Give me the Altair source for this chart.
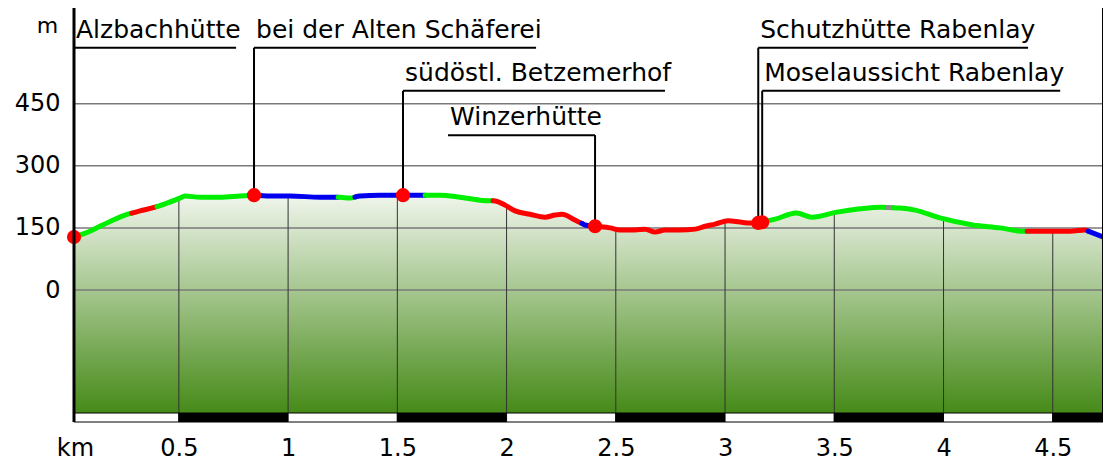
import numpy as np
import pandas as pd
import altair as alt

# ---------------- data ----------------
KM = [0.02, 0.093, 0.139, 0.208, 0.267, 0.322, 0.391, 0.437, 0.505, 0.528, 0.597, 0.688,
      0.780, 0.844, 0.917, 1.009, 1.146, 1.238, 1.283, 1.329, 1.421, 1.526, 1.604, 1.695,
      1.787, 1.879, 1.947, 1.993, 2.039, 2.107, 2.176, 2.222, 2.254, 2.313, 2.359, 2.405,
      2.474, 2.519, 2.588, 2.634, 2.680, 2.725, 2.794, 2.863, 2.909, 2.954, 3.014, 3.069,
      3.115, 3.156, 3.174, 3.229, 3.327, 3.398, 3.512, 3.618, 3.710, 3.801, 3.870, 3.984,
      4.135, 4.259, 4.364, 4.488, 4.579, 4.648, 4.730]
ELEV = [128, 142, 154, 171, 183, 191, 200, 208, 222, 227, 224, 224,
        227, 229, 227, 227, 224, 224, 222, 227, 229, 229, 229, 229,
        224, 217, 215, 205, 191, 183, 176, 181, 183, 169, 157, 154,
        150, 145, 145, 147, 140, 145, 145, 147, 154, 159, 167, 164,
        162, 162, 164, 171, 186, 176, 188, 196, 200, 198, 193, 174,
        157, 150, 142, 142, 142, 145, 128]

# surface segments of the track
SEG_BREAKS = [0.02, 0.285, 0.40, 0.844, 1.229, 1.306, 1.627, 1.938, 2.345, 2.391,
              3.137, 3.746, 3.769, 4.383, 4.662, 4.730]
SEG_TYPES = ["green", "red", "green", "blue", "green", "blue", "green", "red", "blue",
             "red", "green", "grey", "green", "red", "blue"]

# points of interest
POI_NAMES = ["Alzbachhütte", "bei der Alten Schäferei", "südöstl. Betzemerhof",
             "Winzerhütte", "Schutzhütte Rabenlay", "Moselaussicht Rabenlay"]
POI_KM = [0.02, 0.844, 1.526, 2.405, 3.152, 3.170]
POI_LEVEL = [585, 585, 481, 374, 585, 481]
POI_LINE_START = [0.02, 0.844, 1.526, 1.732, 3.152, 3.170]
POI_LINE_END = [0.762, 2.135, 2.725, 2.405, 4.387, 4.534]

X_TICKS = [0.5, 1, 1.5, 2, 2.5, 3, 3.5, 4, 4.5]
Y_TICKS = [0, 150, 300, 450]
X_MIN, X_MAX = 0.02, 4.73
Y_MIN, Y_MAX = -297, 681

COLORS = {"green": "#00ee00", "red": "#ff0000", "blue": "#0000ee", "grey": "#8a8a8a"}
FONT = "DejaVu Sans"

# ---------------- derived tables ----------------
km = np.array(KM)
el = np.array(ELEV, dtype=float)
profile = pd.DataFrame({"km": km, "elev": el})

rows = []
for i, t in enumerate(SEG_TYPES):
    a, b = SEG_BREAKS[i], SEG_BREAKS[i + 1]
    pts = [a] + [k for k in KM if a < k < b] + [b]
    for k in pts:
        rows.append({"km": k, "elev": float(np.interp(k, km, el)), "seg": i, "col": COLORS[t]})
segs = pd.DataFrame(rows)

vgrid = pd.DataFrame({"km": X_TICKS, "elev": np.interp(X_TICKS, km, el), "base": Y_MIN})
hgrid = pd.DataFrame({"elev": Y_TICKS})

bar_edges = [X_MIN] + X_TICKS + [X_MAX]
bars = pd.DataFrame({
    "km": bar_edges[:-1], "b": bar_edges[1:],
    "fill": ["white" if i % 2 == 0 else "black" for i in range(len(bar_edges) - 1)],
})

poi = pd.DataFrame({
    "name": POI_NAMES, "km": POI_KM,
    "elev": np.interp(POI_KM, km, el),
    "level": POI_LEVEL, "ls": POI_LINE_START, "le": POI_LINE_END,
})

borders = pd.DataFrame({"km": [X_MIN, X_MAX], "w": [3, 2]})

xs = alt.Scale(domain=[X_MIN, X_MAX], nice=False, zero=False)
ys = alt.Scale(domain=[Y_MIN, Y_MAX], nice=False, zero=False)

x_axis = alt.Axis(values=X_TICKS, format="~g", labelFont=FONT, labelFontSize=24,
                  labelColor="black", labelBaseline="alphabetic", labelPadding=42,
                  ticks=False, domain=False, grid=False, labelFlush=False,
                  title="km", titleFont=FONT, titleFontSize=24, titleFontWeight="normal",
                  titleX=1, titleY=42, titleAlign="center", titleBaseline="alphabetic",
                  titleColor="black")
y_axis = alt.Axis(values=Y_TICKS, format="d", labelFont=FONT, labelFontSize=24,
                  labelColor="black", labelPadding=14, ticks=False, domain=False,
                  grid=False, title="m", titleFont=FONT, titleFontSize=22,
                  titleFontWeight="normal", titleAngle=0, titleX=-27, titleY=24,
                  titleAlign="center", titleBaseline="alphabetic", titleColor="black")


def X(field):
    return alt.X(field, scale=xs, axis=x_axis, title="km")


def Y(field):
    return alt.Y(field, scale=ys, axis=y_axis, title="m")


area = alt.Chart(profile).mark_area(
    color=alt.Gradient(gradient="linear",
                       stops=[alt.GradientStop(color="#f0f5ec", offset=0),
                              alt.GradientStop(color="#468a18", offset=1)],
                       x1=0, x2=0, y1=0, y2=1),
    interpolate="monotone",
).encode(x=X("km:Q"), y=Y("elev:Q"), y2=alt.datum(Y_MIN))

hrules = alt.Chart(hgrid).mark_rule(color="#7a7a7a", strokeWidth=1.5).encode(y=Y("elev:Q"))

vrules = alt.Chart(vgrid).mark_rule(color="#333333", strokeWidth=1).encode(
    x=X("km:Q"), y=Y("elev:Q"), y2="base:Q")

scalebar = alt.Chart(bars).mark_rect(stroke="black", strokeWidth=1).encode(
    x=X("km:Q"), x2="b:Q",
    y=alt.value(405), y2=alt.value(414),
    fill=alt.Fill("fill:N", scale=None),
)

edge = alt.Chart(borders).mark_rule(color="black").encode(
    x=X("km:Q"), y=alt.value(0), y2=alt.value(414),
    strokeWidth=alt.StrokeWidth("w:Q", scale=None),
)

leaders = alt.Chart(poi).mark_rule(color="black", strokeWidth=2).encode(
    x=X("km:Q"), y=Y("elev:Q"), y2="level:Q")

underlines = alt.Chart(poi).mark_rule(color="black", strokeWidth=2).encode(
    x=X("ls:Q"), x2="le:Q", y=Y("level:Q"))

track = alt.Chart(segs).mark_line(strokeWidth=5, strokeCap="round",
                                  interpolate="monotone").encode(
    x=X("km:Q"), y=Y("elev:Q"),
    detail="seg:N",
    color=alt.Color("col:N", scale=None),
)

dots = alt.Chart(poi).mark_circle(color="#ff0000", opacity=1, size=200).encode(
    x=X("km:Q"), y=Y("elev:Q"))

labels = alt.Chart(poi).mark_text(font=FONT, fontSize=25, align="left",
                                   baseline="alphabetic", dx=2, dy=-10,
                                   color="black").encode(
    x=X("ls:Q"), y=Y("level:Q"), text="name:N")

chart = alt.layer(
    area, hrules, vrules, scalebar, leaders, underlines, track, dots, edge, labels
).properties(
    width=1029, height=405,
    autosize=alt.AutoSizeParams(type="none"),
    padding={"left": 66, "top": 0, "right": 0, "bottom": 48},
).configure_view(stroke=None)

chart.save("out.html", embed_options={"renderer": "svg", "actions": False})
